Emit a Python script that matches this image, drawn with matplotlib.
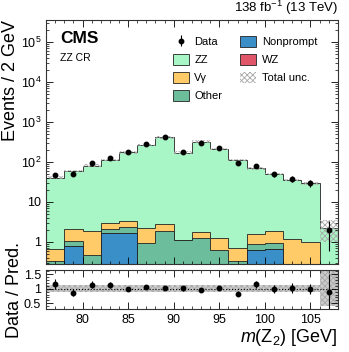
"""
ZZ control region: m(Z2) distribution with data / prediction ratio
"""
import numpy as np
import matplotlib
matplotlib.use('Agg')
import matplotlib.pyplot as plt
from matplotlib.ticker import MultipleLocator, FixedLocator, FuncFormatter, LogLocator
from matplotlib.patches import Patch

plt.rcParams['font.family'] = ['Liberation Sans', 'DejaVu Sans']
plt.rcParams['hatch.linewidth'] = 0.6
plt.rcParams['mathtext.fontset'] = 'custom'
plt.rcParams['mathtext.rm'] = 'Liberation Sans'
plt.rcParams['mathtext.it'] = 'Liberation Sans:italic'

# Bins m(Z2) [GeV]
bin_edges = [76, 78, 80, 82, 84, 86, 88, 90, 92, 94, 96, 98, 100, 102, 104, 106, 108]

# Backgrounds (doc tu hinh), thu tu stack tu duoi len
nonprompt = [0, 0.79, 0, 1.65, 1.65, 0, 0, 0, 0, 0, 0, 0.63, 0.68, 0, 0, 0]
wz = [0, 0, 0, 0, 0, 0, 0, 0, 0, 0, 0, 0, 0, 0, 0, 0]
other = [0.34, 0.29, 0.47, 0.50, 0.68, 0.93, 1.88, 1.12, 1.28, 0.63, 0.34, 0.26, 0.28, 0, 0, 0]
vgamma = [0.32, 1.0, 1.41, 0.78, 0.97, 1.27, 0.89, 0, 0.50, 0.61, 0.36, 0.69, 0.89, 1.21, 1.02, 0]
zz = [39.3, 57.5, 79.1, 109, 171.7, 263.8, 410, 168.9, 320, 209.8, 111.3, 68.4, 48.1, 34.3, 28.3, 2.27]

data = [47, 51, 92, 128, 173, 282, 417, 172, 303, 217, 92, 81, 50, 37, 29, 2]

# Relative total uncertainty (down, up)
unc_down = [0.08, 0.08, 0.08, 0.08, 0.08, 0.08, 0.08, 0.08, 0.08, 0.08, 0.08, 0.08, 0.08, 0.08, 0.08, 0.55]
unc_up = [0.08, 0.08, 0.08, 0.08, 0.08, 0.08, 0.08, 0.08, 0.08, 0.08, 0.08, 0.08, 0.08, 0.08, 0.08, 0.55]
ratio_unc = [0.12, 0.12, 0.12, 0.12, 0.12, 0.12, 0.12, 0.12, 0.12, 0.12, 0.12, 0.12, 0.12, 0.12, 0.12, 0.6]

colors = {
    'ZZ': '#a8f5c6',
    'Vgamma': '#ffca68',
    'Other': '#6cbd9c',
    'Nonprompt': '#3a8fc8',
    'WZ': '#e05568',
}

edges = np.array(bin_edges, dtype=float)
centers = 0.5 * (edges[1:] + edges[:-1])

stack = [('Nonprompt', nonprompt), ('WZ', wz), ('Other', other), ('Vgamma', vgamma), ('ZZ', zz)]
cum = np.cumsum([np.array(v, dtype=float) for _, v in stack], axis=0)
total = cum[-1]
data = np.array(data, dtype=float)

fig = plt.figure(figsize=(3.49, 3.52), dpi=100)
ax = fig.add_axes([0.132, 0.25, 0.836, 0.693])
rax = fig.add_axes([0.132, 0.122, 0.836, 0.111])

# Ve stack tu tren xuong (moi lop la tong cong don)
floor = 1e-3
for i in range(len(stack) - 1, -1, -1):
    name = stack[i][0]
    ax.stairs(cum[i], edges, baseline=floor, fill=True,
              facecolor=colors[name], edgecolor='#222222', linewidth=0.6)

# Uncertainty band
lo = total * (1 - np.array(unc_down))
hi = total * (1 + np.array(unc_up))
ax.stairs(hi, edges, baseline=lo, fill=True, facecolor='none',
          edgecolor='#a8a8a8', hatch='xxxxxx', linewidth=0)

# Data
yerr = np.sqrt(data)
data_h = ax.errorbar(centers, data, yerr=[np.minimum(yerr, data - 1e-3), yerr], fmt='o',
                     color='k', ms=3.2, elinewidth=0.8, capsize=0)

ax.set_yscale('log')
ax.set_xlim(76, 108)
ax.set_ylim(0.28, 3.5e5)


def log_fmt(v, pos):
    if v == 1:
        return '1'
    if v == 10:
        return '10'
    return r'$10^{%d}$' % int(round(np.log10(v)))


ax.yaxis.set_major_locator(FixedLocator([1, 10, 1e2, 1e3, 1e4, 1e5]))
ax.yaxis.set_major_formatter(FuncFormatter(log_fmt))
ax.yaxis.set_minor_locator(LogLocator(base=10, subs=np.arange(2, 10), numticks=20))
ax.xaxis.set_major_locator(MultipleLocator(5))
ax.xaxis.set_minor_locator(MultipleLocator(1))
ax.tick_params(axis='x', labelbottom=False)
for a in (ax, rax):
    a.tick_params(which='both', direction='in', top=True, right=True, labelsize=9)
    a.tick_params(which='major', length=5, width=0.6)
    a.tick_params(which='minor', length=2.5, width=0.5)
    for s in a.spines.values():
        s.set_linewidth(0.8)
        s.set_color('#333333')

ax.set_ylabel('Events / 2 GeV', fontsize=13, loc='top', labelpad=1)

ax.text(0.048, 0.925, 'CMS', transform=ax.transAxes, fontsize=12.5, fontweight='bold',
        ha='left', va='center')
ax.text(0.048, 0.845, 'ZZ CR', transform=ax.transAxes, fontsize=7.5, ha='left', va='center')
ax.text(1.0, 1.012, r'138 fb$^{-1}$ (13 TeV)', transform=ax.transAxes, fontsize=9.5,
        ha='right', va='bottom')

# Legend
handles = [
    data_h,
    Patch(facecolor=colors['ZZ'], edgecolor='#222222', lw=0.6),
    Patch(facecolor=colors['Vgamma'], edgecolor='#222222', lw=0.6),
    Patch(facecolor=colors['Other'], edgecolor='#222222', lw=0.6),
    Patch(facecolor=colors['Nonprompt'], edgecolor='#222222', lw=0.6),
    Patch(facecolor=colors['WZ'], edgecolor='#222222', lw=0.6),
    Patch(facecolor='none', edgecolor='#a8a8a8', hatch='xxxxxx', lw=0),
]
labels = ['Data', 'ZZ', 'V\u03b3', 'Other', 'Nonprompt', 'WZ', 'Total unc.']
ax.legend(handles, labels, ncol=2, loc='upper left', bbox_to_anchor=(0.4, 0.975),
          frameon=False, fontsize=8, handlelength=1.45, handleheight=1.15,
          columnspacing=1.6, labelspacing=0.6, handletextpad=0.5)

# Ratio panel
ratio = data / total
ratio_err = np.sqrt(data) / total
rlo = 1 - np.array(ratio_unc)
rhi = 1 + np.array(ratio_unc)
rax.stairs(rhi, edges, baseline=rlo, fill=True, facecolor='#cccccc',
           edgecolor='#a8a8a8', hatch='xxxxxx', linewidth=0)
rax.axhline(1, color='k', ls=':', lw=0.8)
rax.errorbar(centers, ratio, yerr=ratio_err, fmt='o', color='k', ms=3.2,
             elinewidth=0.8, capsize=0)
rax.set_xlim(76, 108)
rax.set_ylim(0.3, 1.65)
rax.yaxis.set_major_locator(FixedLocator([0.5, 1, 1.5]))
rax.yaxis.set_major_formatter(FuncFormatter(lambda v, p: '%g' % v))
rax.yaxis.set_minor_locator(MultipleLocator(0.1))
rax.xaxis.set_major_locator(MultipleLocator(5))
rax.xaxis.set_minor_locator(MultipleLocator(1))
rax.set_ylabel('Data / Pred.', fontsize=13, labelpad=1)
rax.set_xlabel(r'$m(\mathrm{Z}_2)$ [GeV]', fontsize=13, loc='right', labelpad=1)

fig.savefig('out.png', dpi=100)
